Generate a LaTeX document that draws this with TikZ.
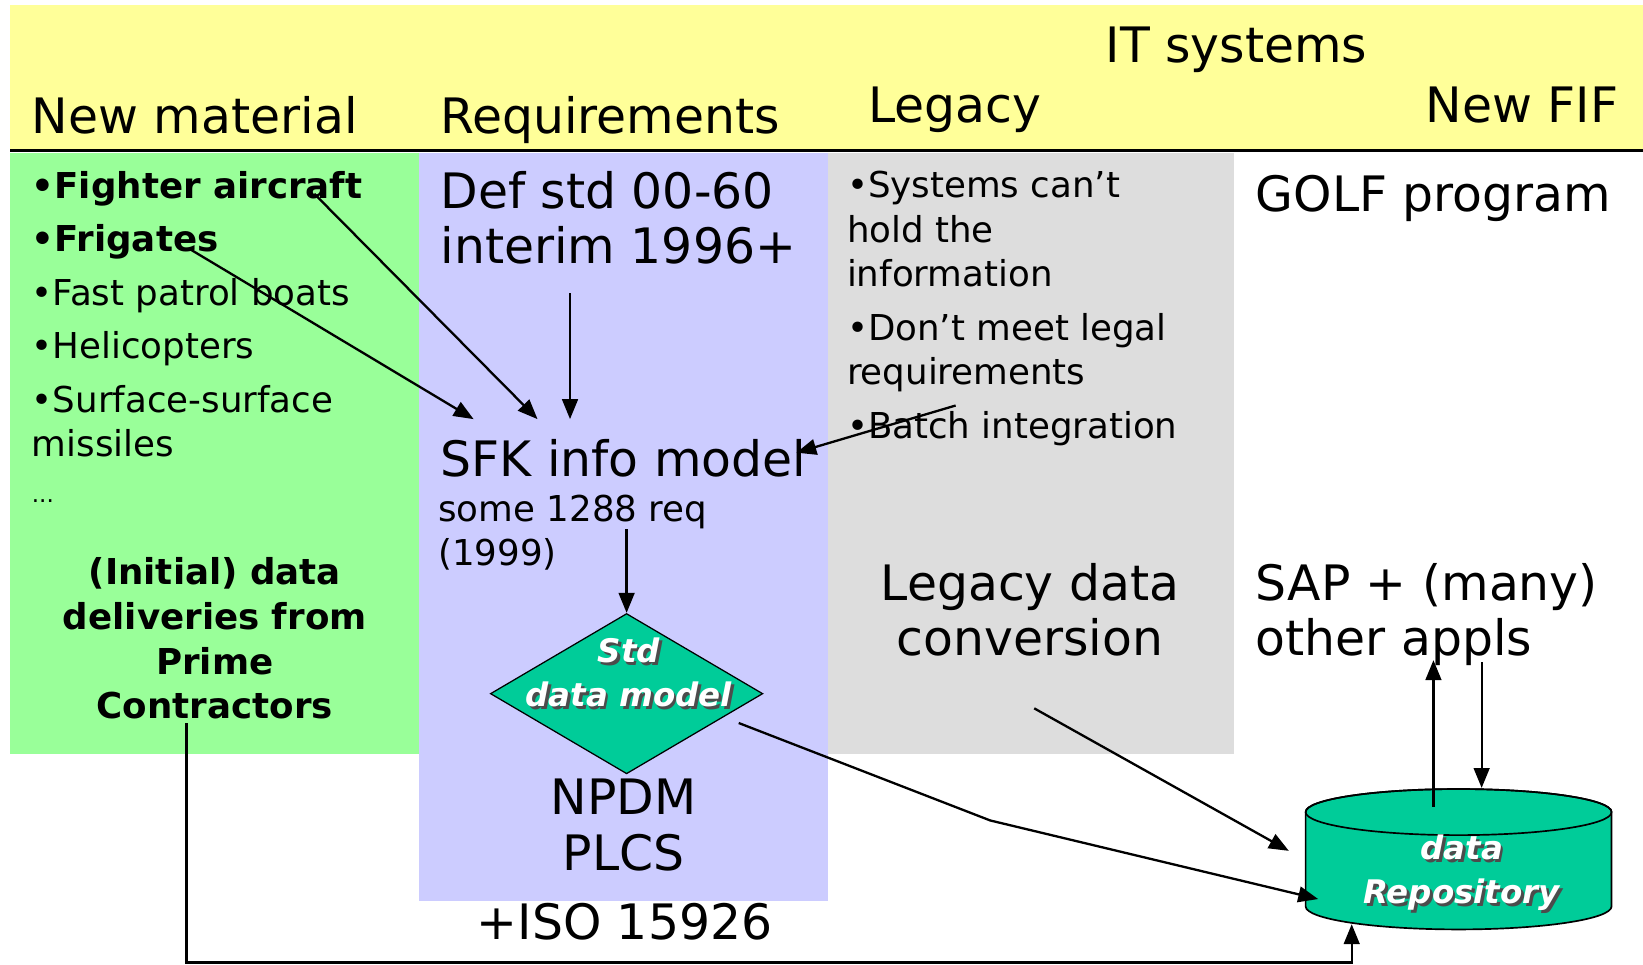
\documentclass[tikz,border=0pt]{standalone}
\usepackage{fontspec}
\setmainfont{DejaVu Sans}
\usetikzlibrary{arrows.meta,shapes.geometric}
\definecolor{hdyellow}{HTML}{FFFF99}
\definecolor{matgreen}{HTML}{99FF99}
\definecolor{reqblue}{HTML}{CCCCFF}
\definecolor{leggray}{HTML}{DDDDDD}
\definecolor{dbteal}{HTML}{00CC99}
\newcommand\fbig{\fontsize{23.3}{26.5}\selectfont}
\newcommand\fmid{\fontsize{17}{21.25}\selectfont}
\newcommand\fdb{\fontsize{15.5}{21}\selectfont\bfseries\itshape}
\newcommand\shtxt[1]{\makebox[0pt][l]{\kern1.3pt\raisebox{-1.3pt}{\color{black!70}#1}}\textcolor{white}{#1}}
\tikzset{
  arr/.style={line width=1.1pt, -{Triangle[length=9.5pt,width=7.5pt]}},
  big/.style={font=\fbig, inner sep=0pt},
  mid/.style={font=\fmid, inner sep=0pt},
}
\begin{document}
\begin{tikzpicture}[x=0.5pt, y=-0.5pt]
      \useasboundingbox (0,0) rectangle (1568,920);
      \fill[hdyellow] (10,5) rectangle (1568,143);
      \fill[matgreen] (10,146) rectangle (400,720);
      \fill[reqblue] (400,146) rectangle (790,860);
      \fill[leggray] (790,146) rectangle (1178,720);
      \draw[line width=1.5pt] (10,144) -- (1568,144);

      \node[big, anchor=base] (itsys) at (1180,60) {IT systems};
      \node[big, anchor=base west] (newmat) at (30,127) {New material};
      \node[big, anchor=base west] (reqs) at (420,127) {Requirements};
      \node[big, anchor=base west] (legacy) at (828,117) {Legacy};
      \node[big, anchor=base east] (newfif) at (1545,117) {New FIF};

      \node[mid, anchor=north west, align=left] (matlist) at (30,163) {\textbf{•Fighter aircraft}\\[4.25pt] \textbf{•Frigates}\\[4.25pt] •Fast patrol boats\\[4.25pt] •Helicopters\\[4.25pt] •Surface-surface\\ missiles};
      \node[font=\fontsize{11}{13}\selectfont, inner sep=0pt, anchor=west] (moremat) at (30,478) {...};
      \node[mid, anchor=north, align=center, font=\fmid\bfseries] (deliv) at (205,532) {(Initial) data\\ deliveries from\\ Prime\\ Contractors};

      \node[big, anchor=north west, align=left] (defstd) at (420,163) {Def std 00-60\\ interim 1996+};
      \node[big, anchor=north west] (sfk) at (420,419) {SFK info model};
      \node[mid, anchor=north west, align=left] (sfkreq) at (418,472) {some 1288 req\\ (1999)};
      \node[diamond, draw, fill=dbteal, line width=0.6pt, inner sep=0pt, minimum width=130pt, minimum height=76.5pt] (stdm) at (598,662) {};
      \node[font=\fdb, align=center, inner sep=0pt] (stdmtxt) at (600,643) {\shtxt{Std}\\ \shtxt{data model}};
      \node[big, anchor=north, align=center] (npdm) at (595,743) {NPDM\\ PLCS};
      \node[big] (iso) at (596,880) {+ISO 15926};

      \node[mid, anchor=north west, align=left] (leglist) at (808,163) {•Systems can’t\\ hold the\\ information\\[4.25pt] •Don’t meet legal\\ requirements\\[4.25pt] •Batch integration};
      \node[big, anchor=north, align=center] (legconv) at (983,537) {Legacy data\\ conversion};

      \node[big, anchor=north west] (golf) at (1198,167) {GOLF program};
      \node[big, anchor=north west, align=left] (sap) at (1198,537) {SAP + (many)\\ other appls};

      \draw[fill=dbteal, line width=0.8pt] (1246,775) -- (1246,865) arc[start angle=180, end angle=360, x radius=73pt, y radius=11pt] -- (1538,775) arc[start angle=0, end angle=180, x radius=73pt, y radius=11pt] -- cycle;
      \draw[line width=0.8pt] (1392,775) ellipse [x radius=73pt, y radius=11pt];
      \node[font=\fdb, align=center, inner sep=0pt] (repo) at (1395,834) {\shtxt{data}\\ \shtxt{Repository}};

      \coordinate (fighter) at (300,185);
      \coordinate (frig) at (180,237);
      \coordinate (sfkin1) at (513,400);
      \coordinate (sfkin2) at (452,400);
      \coordinate (defout) at (544,280);
      \coordinate (sfkin3) at (544,400);
      \coordinate (batch) at (912,387);
      \coordinate (sfkin4) at (760,432);
      \coordinate (reqout) at (598,505);
      \coordinate (stdout) at (705,690);
      \coordinate (bend) at (945,783);
      \coordinate (repoin1) at (1258,858);
      \coordinate (convout) at (987,676);
      \coordinate (repoin2) at (1230,812);
      \coordinate (repoout) at (1368,770);
      \coordinate (sapin) at (1368,630);
      \coordinate (sapout) at (1414,632);
      \coordinate (repoin3) at (1414,752);
      \coordinate (delivout) at (178,690);
      \coordinate (repoin4) at (1290,882);

      \draw[arr] (fighter) -- (sfkin1);
      \draw[arr] (frig) -- (sfkin2);
      \draw[arr] (defout) -- (sfkin3);
      \draw[arr] (batch) -- (sfkin4);
      \draw[arr] (reqout) -- (stdm.north);
      \draw[arr] (stdout) -- (bend) -- (repoin1);
      \draw[arr] (convout) -- (repoin2);
      \draw[arr] (repoout) -- (sapin);
      \draw[arr] (sapout) -- (repoin3);
      \draw[arr] (delivout) |- (1290,918.5) -- (repoin4);
\end{tikzpicture}
\end{document}
